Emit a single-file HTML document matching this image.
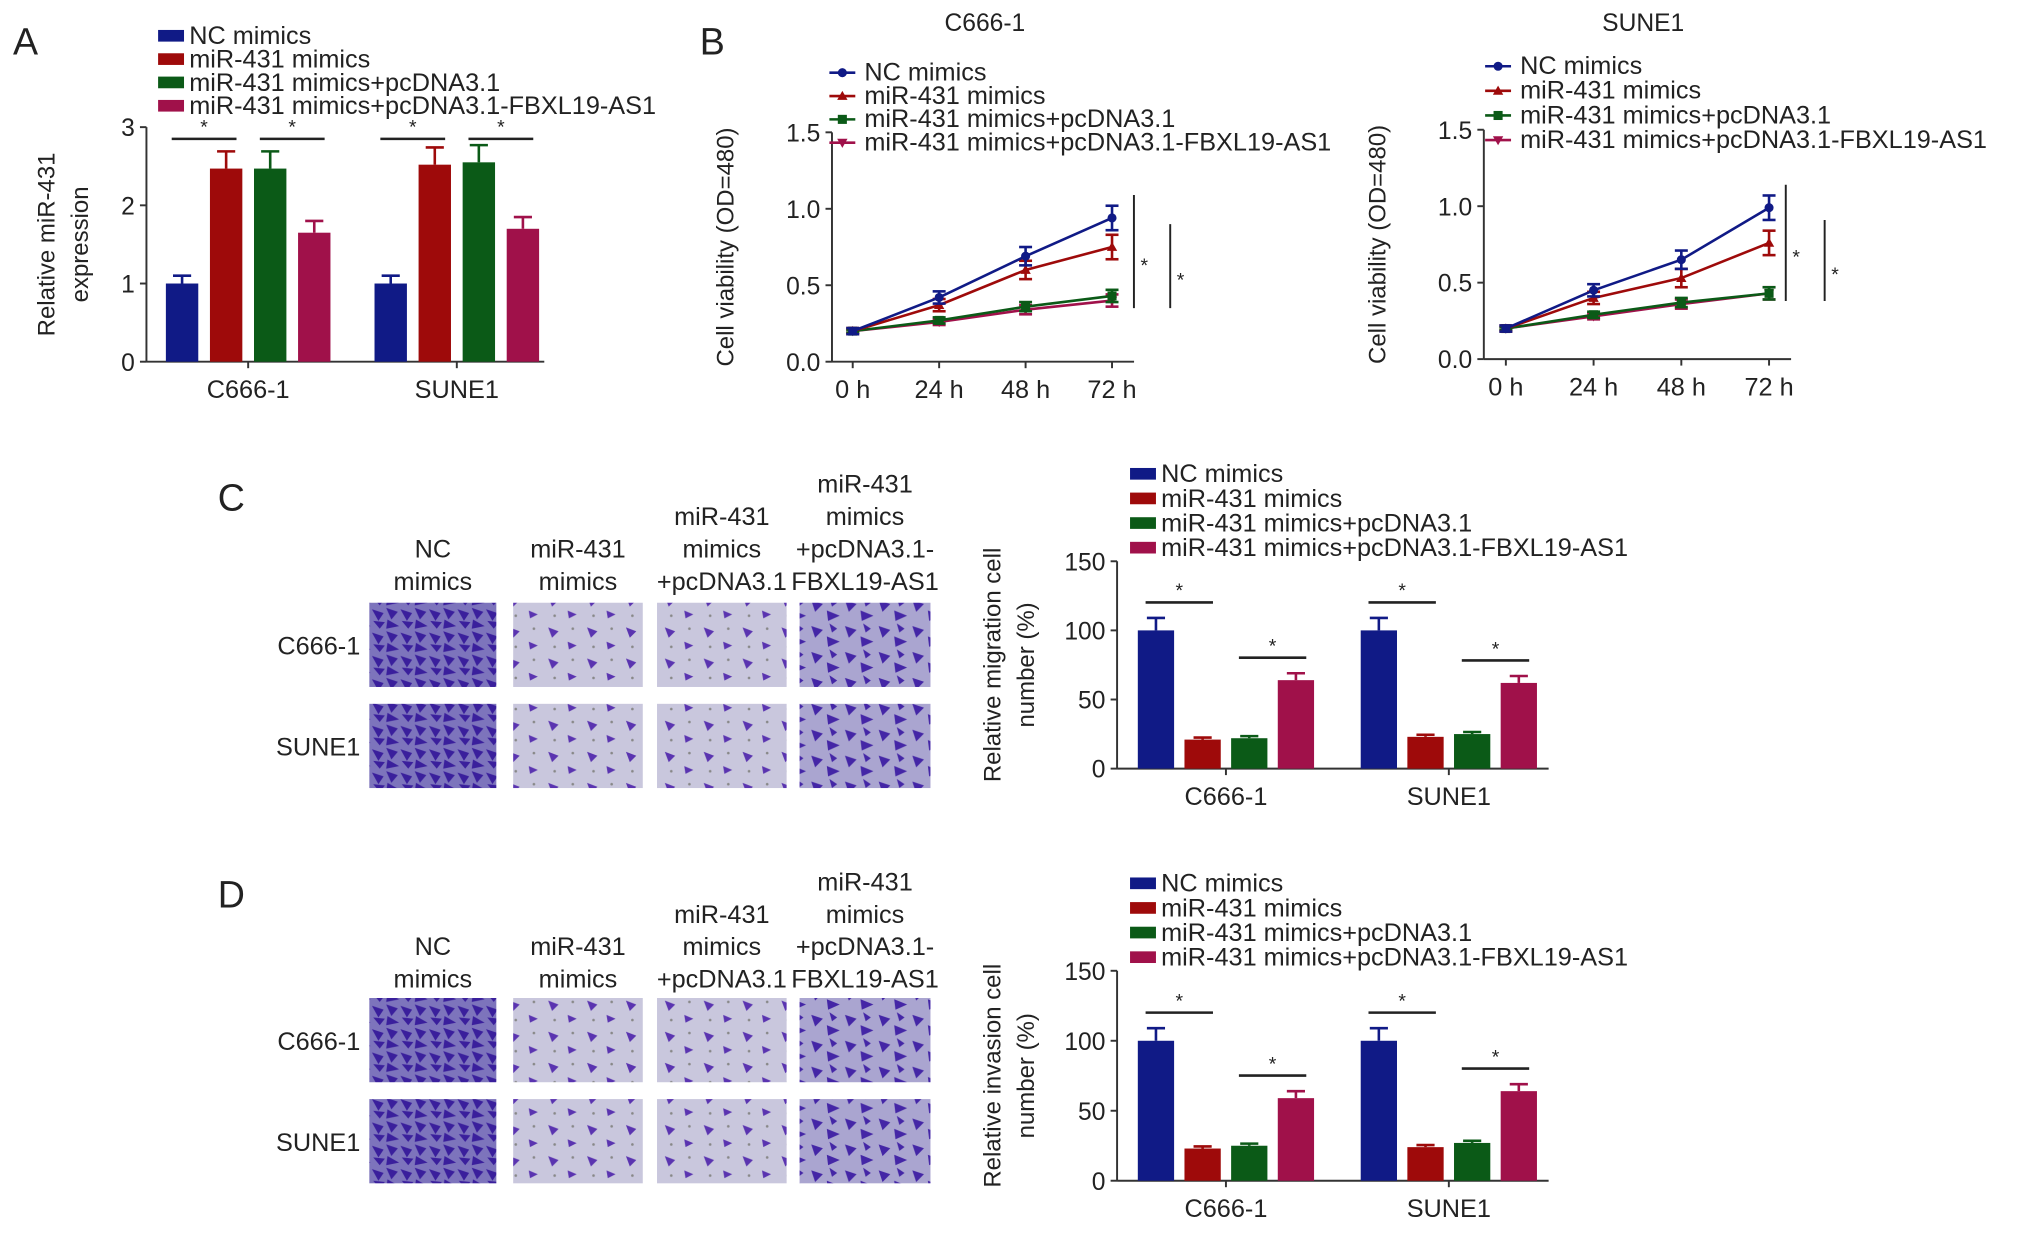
<!DOCTYPE html>
<html><head><meta charset="utf-8"><style>
html,body{margin:0;padding:0;background:#fff;}
svg{display:block;font-family:"Liberation Sans",Arial,sans-serif;}
</style></head><body>
<svg id="fig" width="2032" height="1234" viewBox="0 0 1568 952" xmlns="http://www.w3.org/2000/svg">
<defs>
<pattern id="dense" width="22" height="18" patternUnits="userSpaceOnUse">
<rect width="22" height="18" fill="#7d74bc"/>
<path d="M1 2 L10 5 L6 11 Z M12 1 L21 4 L16 10 Z M2 11 L11 12 L7 17 Z M13 10 L22 15 L12 17 Z" fill="#3a1f9c"/>
</pattern>
<pattern id="mid" width="26" height="20" patternUnits="userSpaceOnUse">
<rect width="26" height="20" fill="#aaa5d0"/>
<path d="M2 3 L11 6 L5 12 Z M14 11 L24 15 L15 19 Z M16 1 L22 5 L18 8 Z" fill="#4426a6"/>
</pattern>
<pattern id="sparse" width="30" height="24" patternUnits="userSpaceOnUse">
<rect width="30" height="24" fill="#c9c7dd"/>
<path d="M3 4 L11 7 L6 12 Z M18 15 L25 18 L19 21 Z" fill="#5a34b0"/>
<circle cx="22" cy="5" r="1" fill="#888"/><circle cx="8" cy="19" r="1" fill="#888"/>
</pattern>
</defs>
</svg>
<script>
// ---------- data ----------
const groupNames = ["NC mimics","miR-431 mimics","miR-431 mimics+pcDNA3.1","miR-431 mimics+pcDNA3.1-FBXL19-AS1"];
const cellLines = ["C666-1","SUNE1"];
const exprC666 = [1.0, 2.47, 2.47, 1.65];
const exprC666Err = [0.1, 0.22, 0.22, 0.15];
const exprSUNE1 = [1.0, 2.52, 2.55, 1.7];
const exprSUNE1Err = [0.1, 0.22, 0.22, 0.15];
const exprTicks = [0,1,2,3];
const timeLabels = ["0 h","24 h","48 h","72 h"];
const viabC666NC = [0.2, 0.42, 0.69, 0.94];
const viabC666Mi = [0.2, 0.37, 0.60, 0.75];
const viabC666Pc = [0.2, 0.27, 0.36, 0.43];
const viabC666Fb = [0.2, 0.26, 0.34, 0.40];
const viabSUNE1NC = [0.2, 0.45, 0.65, 0.99];
const viabSUNE1Mi = [0.2, 0.40, 0.53, 0.76];
const viabSUNE1Pc = [0.2, 0.29, 0.37, 0.43];
const viabSUNE1Fb = [0.2, 0.28, 0.36, 0.43];
const viabErr = [0.02, 0.04, 0.06, 0.08];
const viabTicks = [0.0,0.5,1.0,1.5];
const migC666 = [100, 21, 22, 64];
const migSUNE1 = [100, 23, 25, 62];
const migErr = [9, 1.5, 1.5, 5];
const invC666 = [100, 23, 25, 59];
const invSUNE1 = [100, 24, 27, 64];
const invErr = [9, 1.5, 1.5, 5];
const pctTicks = [0,50,100,150];

const colors = ["#101a86","#9e0a0a","#0b5a17","#a0114a"];
const NS = "http://www.w3.org/2000/svg";
const svg = document.getElementById("fig");
function mk(tag, attrs, parent, text){
  const e = document.createElementNS(NS, tag);
  for (const k in attrs) e.setAttribute(k, attrs[k]);
  if (text !== undefined) e.textContent = text;
  (parent||svg).appendChild(e);
  return e;
}
function txt(x,y,s,size,anchor,parent,extra){
  return mk("text", Object.assign({x:x,y:y,"font-size":size,"text-anchor":anchor||"start",fill:"#222"}, extra||{}), parent, s);
}

[["A",10,42],["B",540,42],["C",168,394],["D",168,700]].forEach(p=>{
  const t = txt(p[1],p[2],p[0],29,"start");
  
  
});

function barLegend(x,y0,dy,size,name){
  const g = mk("g",{});
  
  
  groupNames.forEach((n,i)=>{
    const e = mk("g",{}, g);
    
    
    mk("rect",{x:x,y:y0+i*dy-11,width:20,height:9,fill:colors[i]},e);
    txt(x+24,y0+i*dy,n,size,"start",e);
  });
}

function barChart(o){
  const g = mk("g",{});
  
  
  const ys = v => o.y0 - (v - o.ticks[0])/(o.ticks[o.ticks.length-1]-o.ticks[0])*(o.y0-o.y1);
  mk("line",{x1:o.ax,y1:o.y1,x2:o.ax,y2:o.y0,stroke:"#333","stroke-width":1.5},g);
  mk("line",{x1:o.ax,y1:o.y0,x2:o.axEnd,y2:o.y0,stroke:"#333","stroke-width":1.5},g);
  o.ticks.forEach(t=>{
    mk("line",{x1:o.ax-5,y1:ys(t),x2:o.ax,y2:ys(t),stroke:"#333","stroke-width":1.5},g);
    const l = txt(o.ax-9,ys(t)+7,String(t),19,"end",g);
    
    
  });
  const yl = mk("text",{transform:`translate(${o.ylx},${(o.y0+o.y1)/2}) rotate(-90)`,"font-size":18.5,"text-anchor":"middle",fill:"#222"},g);
  
  
  o.ylab.forEach((s,i)=>{ mk("tspan",{x:0,dy:i===0?0:26},yl,s); });
  [o.c1,o.c2].forEach((vals,ci)=>{
    const errs = o.errs[ci];
    vals.forEach((v,i)=>{
      const x = o.gx[ci] + i*o.step;
      const r = mk("rect",{x:x,y:ys(v),width:o.bw,height:o.y0-ys(v),fill:colors[i]},g);
      
      
      const cx = x+o.bw/2, ye = ys(v+errs[i]);
      mk("line",{x1:cx,y1:ys(v),x2:cx,y2:ye,stroke:colors[i],"stroke-width":2},g);
      mk("line",{x1:cx-7,y1:ye,x2:cx+7,y2:ye,stroke:colors[i],"stroke-width":2},g);
    });
    const mid = o.gx[ci] + (3*o.step+o.bw)/2;
    mk("line",{x1:mid,y1:o.y0,x2:mid,y2:o.y0+5,stroke:"#333","stroke-width":1.5},g);
    const c = txt(mid,o.y0+28,cellLines[ci],19.5,"middle",g);
    
    
    o.sig.forEach(pair=>{
      const a = pair[0], b = pair[1];
      const top = o.sigFixed!==undefined ? o.sigFixed : Math.max(vals[a]+errs[a], vals[b]+errs[b]);
      const y = ys(top) - o.sigGap;
      const x1 = o.gx[ci]+a*o.step+o.bw/2-8, x2 = o.gx[ci]+b*o.step+o.bw/2+8;
      const s = mk("line",{x1:x1,y1:y,x2:x2,y2:y,stroke:"#222","stroke-width":2},g);
      
      
      txt((x1+x2)/2,y-4,"*",15,"middle",g);
    });
  });
}

barLegend(122,34,18,19.5,"legend-a");
barChart({name:"chart-a-expression",ax:113,axEnd:420,y0:279,y1:98,ticks:exprTicks,ylx:42,ylab:["Relative miR-431","expression"],
  c1:exprC666,c2:exprSUNE1,errs:[exprC666Err,exprSUNE1Err],gx:[128,289],step:34,bw:25,sig:[[0,1],[2,3]],sigGap:0,sigFixed:2.85});
barLegend(872,372,19,19.5,"legend-c");
barChart({name:"chart-c-migration",ax:862,axEnd:1195,y0:593,y1:433,ticks:pctTicks,ylx:772,ylab:["Relative migration cell","number (%)"],
  c1:migC666,c2:migSUNE1,errs:[migErr,migErr],gx:[878,1050],step:36,bw:28,sig:[[0,1],[2,3]],sigGap:12});
barLegend(872,688,19,19.5,"legend-d");
barChart({name:"chart-d-invasion",ax:862,axEnd:1195,y0:911,y1:749,ticks:pctTicks,ylx:772,ylab:["Relative invasion cell","number (%)"],
  c1:invC666,c2:invSUNE1,errs:[invErr,invErr],gx:[878,1050],step:36,bw:28,sig:[[0,1],[2,3]],sigGap:12});

function lineChart(o){
  const g = mk("g",{});
  
  
  const ys = v => o.y0 - v/1.5*(o.y0-o.y1);
  const xs = i => o.x0h + i*o.dx;
  const tt = txt(o.titleX,24,o.title,19,"middle",g);
  
  
  mk("line",{x1:o.ax,y1:o.y1,x2:o.ax,y2:o.y0,stroke:"#333","stroke-width":1.5},g);
  mk("line",{x1:o.ax,y1:o.y0,x2:xs(3)+17,y2:o.y0,stroke:"#333","stroke-width":1.5},g);
  viabTicks.forEach(t=>{
    mk("line",{x1:o.ax-5,y1:ys(t),x2:o.ax,y2:ys(t),stroke:"#333","stroke-width":1.5},g);
    const l = txt(o.ax-9,ys(t)+7,t.toFixed(1),19,"end",g);
    
    
  });
  timeLabels.forEach((s,i)=>{
    mk("line",{x1:xs(i),y1:o.y0,x2:xs(i),y2:o.y0+5,stroke:"#333","stroke-width":1.5},g);
    const l = txt(xs(i),o.y0+28,s,19.5,"middle",g);
    
    
  });
  const yl = txt(0,0,"Cell viability (OD=480)",18.5,"middle",g,{transform:`translate(${o.ax-76},${(o.y0+o.y1)/2}) rotate(-90)`});
  
  
  const markers = ["circle","tri","square","tridown"];
  const marker = (k,x,y,c,parent)=>{
    if(k==="circle") return mk("circle",{cx:x,cy:y,r:3.5,fill:c},parent);
    if(k==="square") return mk("rect",{x:x-3.5,y:y-3.5,width:7,height:7,fill:c},parent);
    if(k==="tri") return mk("path",{d:`M${x} ${y-4}L${x+4} ${y+3}L${x-4} ${y+3}Z`,fill:c},parent);
    return mk("path",{d:`M${x} ${y+4}L${x+4} ${y-3}L${x-4} ${y-3}Z`,fill:c},parent);
  };
  [3,2,1,0].forEach(si=>{
    const vals = o.series[si];
    const s = mk("g",{},g);
    
    
    mk("polyline",{points:vals.map((v,i)=>xs(i)+","+ys(v)).join(" "),fill:"none",stroke:colors[si],"stroke-width":2},s);
    vals.forEach((v,i)=>{
      const e = viabErr[i]*(si<2?1:0.5);
      mk("line",{x1:xs(i),y1:ys(v-e),x2:xs(i),y2:ys(v+e),stroke:colors[si],"stroke-width":2},s);
      mk("line",{x1:xs(i)-5,y1:ys(v+e),x2:xs(i)+5,y2:ys(v+e),stroke:colors[si],"stroke-width":2},s);
      mk("line",{x1:xs(i)-5,y1:ys(v-e),x2:xs(i)+5,y2:ys(v-e),stroke:colors[si],"stroke-width":2},s);
      const m = marker(markers[si],xs(i),ys(v),colors[si],s);
      
      
    });
  });
  o.sigs.forEach(sg=>{
    const l = mk("line",{x1:sg[0],y1:ys(o.series[sg[1]][3]+0.15),x2:sg[0],y2:ys(o.series[sg[2]][3]-0.05),stroke:"#222","stroke-width":1.5},g);
    
    
    txt(sg[0]+8,(ys(o.series[sg[1]][3])+ys(o.series[sg[2]][3]))/2+10,"*",15,"middle",g);
  });
  const lg = mk("g",{},g);
  
  
  groupNames.forEach((n,i)=>{
    const e = mk("g",{},lg);
    
    
    const y = o.legY + i*o.legDy;
    mk("line",{x1:o.legX,y1:y-6,x2:o.legX+20,y2:y-6,stroke:colors[i],"stroke-width":2},e);
    marker(markers[i],o.legX+10,y-6,colors[i],e);
    txt(o.legX+27,y,n,19.5,"start",e);
  });
}
lineChart({name:"chart-b-c666",title:"C666-1",titleX:760,ax:642,y0:279,y1:102,x0h:658,dx:66.7,
  series:[viabC666NC,viabC666Mi,viabC666Pc,viabC666Fb],sigs:[[875,0,3],[903,1,3]],legX:640,legY:62,legDy:18});
lineChart({name:"chart-b-sune1",title:"SUNE1",titleX:1268,ax:1145,y0:277,y1:100,x0h:1162,dx:67.7,
  series:[viabSUNE1NC,viabSUNE1Mi,viabSUNE1Pc,viabSUNE1Fb],sigs:[[1378,0,3],[1408,1,3]],legX:1146,legY:57,legDy:19});

const colLabels = [["NC","mimics"],["miR-431","mimics"],["miR-431","mimics","+pcDNA3.1"],["miR-431","mimics","+pcDNA3.1-","FBXL19-AS1"]];
const colX = [[285,383],[396,496],[507,607],[617,718]];
const fills = [["dense","sparse","sparse","mid"],["dense","sparse","sparse","mid"]];
function micro(top,rows,name){
  const g = mk("g",{});
  
  
  colLabels.forEach((ls,ci)=>{
    const cx = (colX[ci][0]+colX[ci][1])/2;
    ls.forEach((s,li)=>{
      const t = txt(cx, top - (ls.length-1-li)*25, s, 19.5, "middle", g);
      
      
    });
  });
  rows.forEach((ry,ri)=>{
    const t = txt(278, ry+40, cellLines[ri], 19.5, "end", g);
    
    
    colX.forEach((c,ci)=>{
      const r = mk("rect",{x:c[0],y:ry,width:c[1]-c[0],height:65,fill:`url(#${fills[ri][ci]})`},g);
      
      
    });
  });
}
micro(455,[465,543],"migration-micrographs");
micro(762,[770,848],"invasion-micrographs");
</script>
</body></html>
